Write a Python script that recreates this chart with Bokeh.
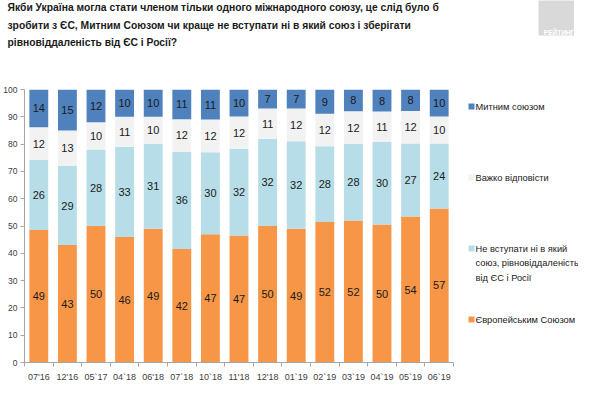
import numpy as np
from bokeh.plotting import figure
from bokeh.layouts import column, row
from bokeh.models import ColumnDataSource, FixedTicker, Range1d
from bokeh.core.properties import value
from bokeh.embed import file_html
from bokeh.resources import INLINE

periods = ["07'16", "12'16", "05`17", "04`18", "06'18", "07`18", "10`18", "11'18",
           "12'18", "01`19", "02`19", "03`19", "04`19", "05`19", "06`19"]
eu = [49, 43, 50, 46, 49, 42, 47, 47, 50, 49, 52, 52, 50, 54, 57]
nonaligned = [26, 29, 28, 33, 31, 36, 30, 32, 32, 32, 28, 28, 30, 27, 24]
hard = [12, 13, 10, 11, 10, 12, 12, 12, 11, 12, 12, 12, 11, 12, 10]
customs = [14, 15, 12, 10, 10, 11, 11, 10, 7, 7, 9, 8, 8, 8, 10]

series = [eu, nonaligned, hard, customs]
colors = ["#F79646", "#B7DEE8", "#F2F2F2", "#4F81BD"]
legend_names = ["Європейським Союзом",
                "Не вступати ні в який\nсоюз, рівновіддаленість\nвід ЄС і Росії",
                "Важко відповісти", "Митним союзом"]
title_lines = ["Якби Україна могла стати членом тільки одного міжнародного союзу, це слід було б",
               "зробити з ЄС, Митним Союзом чи краще не вступати ні в який союз і зберігати",
               "рівновіддаленість від ЄС і Росії?"]
logo_text = "РЕЙТИНГ"

FONT = "Liberation Sans"

# ---------- title strip ----------
TW, TH = 574, 81
tf = figure(title=None, frame_width=TW, frame_height=TH, output_backend="svg",
            toolbar_location=None, x_range=Range1d(0, TW), y_range=Range1d(TH, 0),
            min_border_left=0, min_border_right=0, min_border_top=0, min_border_bottom=0)
tf.axis.visible = False
tf.grid.visible = False
tf.outline_line_color = None
tsrc = ColumnDataSource(dict(x=[7] * 3, y=[7 + 17.5 * i for i in range(3)], t=title_lines))
tf.text(x="x", y="y", text="t", source=tsrc, text_font=value(FONT),
        text_font_size="10.3px", text_font_style="bold", text_color="#1a1a1a",
        text_baseline="alphabetic")
tf.quad(left=[538], right=[579], top=[-5], bottom=[35], fill_color="#D9D9D9", line_color=None)
tf.text(x=[558.5], y=[32], text=[logo_text], text_font=value(FONT), text_font_size="6.5px",
        text_font_style="bold", text_color="white", text_align="center",
        text_baseline="alphabetic")

# ---------- main chart ----------
vals = np.array(series, dtype=float)
norm = vals / vals.sum(axis=0) * 100.0
tops = np.cumsum(norm, axis=0)
bottoms = tops - norm
xs = np.arange(len(periods)) + 0.5

p = figure(title=None, frame_width=429, frame_height=273, output_backend="svg",
           toolbar_location=None, x_range=Range1d(0, len(periods)), y_range=Range1d(0, 100),
           min_border_left=20, min_border_right=2, min_border_top=8, min_border_bottom=20)
p.outline_line_color = None
p.grid.visible = False

for k in range(4):
    src = ColumnDataSource(dict(x=xs, bottom=bottoms[k], top=tops[k]))
    p.vbar(x="x", bottom="bottom", top="top", width=0.66, source=src,
           fill_color=colors[k], line_color=None)
    lsrc = ColumnDataSource(dict(x=xs, y=(bottoms[k] + tops[k]) / 2,
                                 t=[str(v) for v in series[k]]))
    p.text(x="x", y="y", text="t", source=lsrc, text_align="center",
           text_baseline="middle", text_font=value(FONT), text_font_size="11px",
           text_color="#1a1a1a")

p.yaxis.ticker = FixedTicker(ticks=list(range(0, 101, 10)))
p.yaxis.axis_line_color = "#A6A6A6"
p.yaxis.major_tick_line_color = "#A6A6A6"
p.yaxis.major_tick_in = 0
p.yaxis.major_tick_out = 4
p.yaxis.minor_tick_line_color = None
p.yaxis.major_label_text_font = FONT
p.yaxis.major_label_text_font_size = "8.5px"
p.yaxis.major_label_text_color = "#404040"
p.yaxis.major_label_standoff = 3

p.xaxis.ticker = FixedTicker(ticks=list(xs), minor_ticks=list(range(0, len(periods) + 1)))
p.xaxis.major_label_overrides = {float(x): lab for x, lab in zip(xs, periods)}
p.xaxis.axis_line_color = "#A6A6A6"
p.xaxis.major_tick_line_color = None
p.xaxis.major_tick_in = 0
p.xaxis.major_tick_out = 0
p.xaxis.minor_tick_line_color = "#A6A6A6"
p.xaxis.minor_tick_in = 0
p.xaxis.minor_tick_out = 4
p.xaxis.major_label_text_font = FONT
p.xaxis.major_label_text_font_size = "9px"
p.xaxis.major_label_text_color = "#404040"
p.xaxis.major_label_standoff = 5

# ---------- legend panel: same vertical structure as the chart ----------
LWD = 123
lf = figure(title=None, frame_width=LWD, frame_height=273, output_backend="svg",
            toolbar_location=None, x_range=Range1d(0, LWD), y_range=Range1d(273, 0),
            min_border_left=0, min_border_right=0, min_border_top=8, min_border_bottom=20)
lf.axis.visible = False
lf.grid.visible = False
lf.outline_line_color = None
legend_y = [230, 159, 88, 17]   # offsets from the chart frame's top
lx, ly, lt = [], [], []
for k in range(4):
    for j, ln in enumerate(legend_names[k].split("\n")):
        lx.append(20)
        ly.append(legend_y[k] + 14.5 * j)
        lt.append(ln)
lf.quad(left=[13] * 4, right=[19] * 4, top=[y - 3 for y in legend_y],
        bottom=[y + 3 for y in legend_y], fill_color=colors, line_color=None)
lf.text(x=lx, y=ly, text=lt, text_font=value(FONT), text_font_size="9.3px",
        text_color="#1a1a1a", text_baseline="middle")

layout = column(tf, row(p, lf))
open("out.html", "w").write(file_html(layout, INLINE))
